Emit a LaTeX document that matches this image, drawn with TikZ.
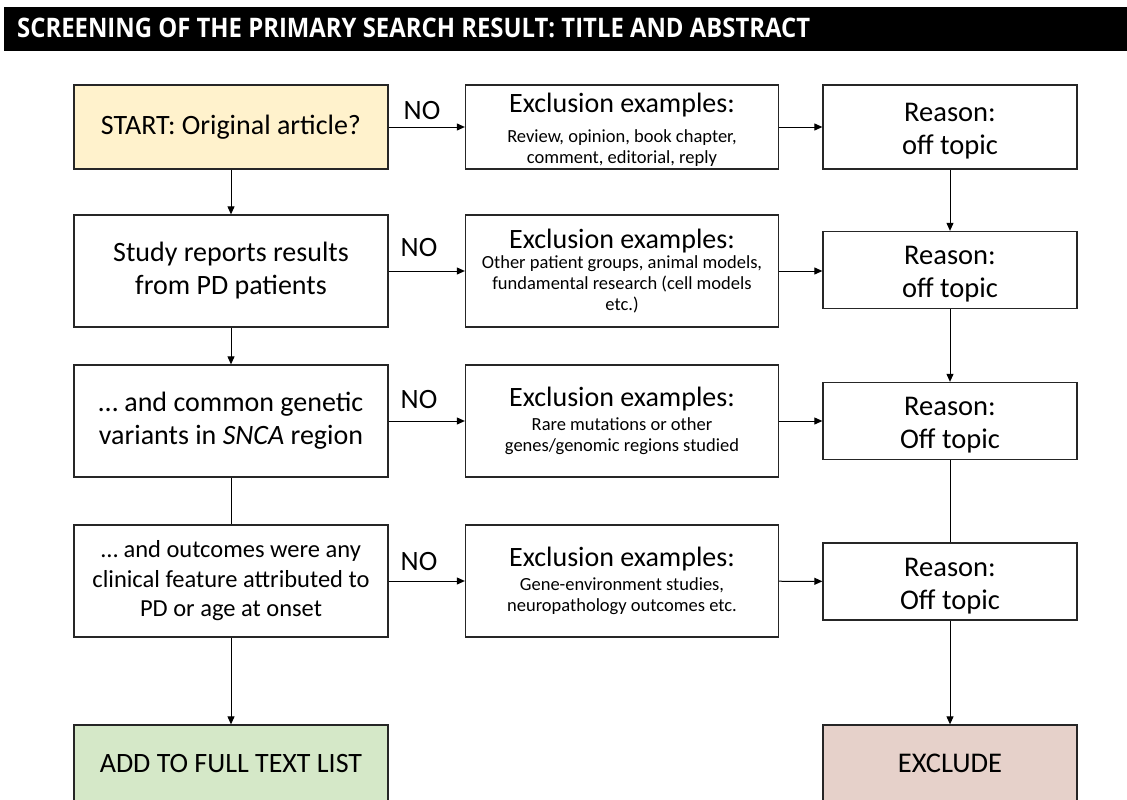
\documentclass[tikz,border=0pt]{standalone}
\usepackage{fontspec}
\usepackage{graphicx}
\setmainfont{Carlito}
\newfontfamily\titlefont{Open Sans}
\usetikzlibrary{arrows.meta}
\definecolor{startfill}{HTML}{FFF2CC}
\definecolor{addfill}{HTML}{D5E8C8}
\definecolor{exfill}{HTML}{E6D1CA}
\definecolor{edge}{HTML}{262626}
\tikzset{
  box/.style={draw=edge, line width=1.3pt, align=center, inner sep=2pt},
  lbox/.style={box, minimum width=314pt, font=\fontsize{28}{33}\selectfont},
  xbox/.style={box, minimum width=313pt, font=\fontsize{18.5}{21}\selectfont},
  rbox/.style={box, minimum width=254pt, minimum height=77pt, font=\fontsize{28.5}{33}\selectfont},
  nolab/.style={font=\fontsize{28}{33}\selectfont, inner sep=0pt},
  conn/.style={line width=1pt, draw=black},
  arr/.style={conn, -{Triangle[length=8pt,width=7pt]}},
}
\newcommand{\xhead}{{\fontsize{28}{33}\selectfont Exclusion examples:}}
\newcommand{\rstrut}{\rule{0pt}{27pt}}
\begin{document}
\begin{tikzpicture}[x=1pt,y=-1pt]
\useasboundingbox (0,0) rectangle (1127,800);
\clip (0,0) rectangle (1127,800);
% title bar
\fill[black] (4,7) rectangle (1140,51);
\node[anchor=south west, inner sep=0pt, text=white] (title) at (17,38)
  {\resizebox{793pt}{19.5pt}{\titlefont\bfseries SCREENING OF THE PRIMARY SEARCH RESULT: TITLE AND ABSTRACT}};

% left column
\node[lbox, fill=startfill, minimum height=84pt] (s1) at (231,127) {START: Original article?};
\node[lbox, minimum height=112pt] (s2) at (231,271) {Study reports results\\from PD patients};
\node[lbox, minimum height=112pt] (s3) at (231,421) {\dots\ and common genetic\\variants in \textit{SNCA} region};
\node[lbox, minimum height=112pt, font=\fontsize{24.5}{29.5}\selectfont] (s4) at (231,581) {\dots\ and outcomes were any\\clinical feature attributed to\\PD or age at onset};
\node[lbox, fill=addfill, minimum height=77pt] (add) at (231,763.5) {ADD TO FULL TEXT LIST};

% middle column
\node[xbox, minimum height=84pt] (x1) at (622,127) {\rule{0pt}{24pt}\xhead\\[9pt]Review, opinion, book chapter,\\comment, editorial, reply};
\node[xbox, minimum height=112pt] (x2) at (622,271) {\xhead\\[-1pt]Other patient groups, animal models,\\fundamental research (cell models\\etc.)};
\node[xbox, minimum height=112pt] (x3) at (622,421) {\xhead\\[3pt]Rare mutations or other\\genes/genomic regions studied};
\node[xbox, minimum height=112pt] (x4) at (622,581) {\xhead\\[3pt]Gene-environment studies,\\neuropathology outcomes etc.};

% right column
\node[rbox, minimum height=84pt] (r1) at (950,127) {\rstrut Reason:\\off topic};
\node[rbox] (r2) at (950,270) {\rstrut Reason:\\off topic};
\node[rbox] (r3) at (950,421) {\rstrut Reason:\\Off topic};
\node[rbox] (r4) at (950,581.5) {\rstrut Reason:\\Off topic};
\node[rbox, fill=exfill, minimum height=77pt] (exc) at (950,763.5) {EXCLUDE};

% NO labels
\node[nolab] (n1) at (422,111) {NO};
\node[nolab] (n2) at (419,248) {NO};
\node[nolab] (n3) at (419,400) {NO};
\node[nolab] (n4) at (419,562) {NO};

% vertical connectors left
\draw[arr] (s1) -- (s2);
\draw[arr] (s2) -- (s3);
\draw[conn] (s3) -- (s4);
\draw[arr] (s4) -- (add);

% horizontal connectors
\draw[arr] (s1) -- (x1);
\draw[arr] (s2) -- (x2);
\draw[arr] (s3) -- (x3);
\draw[arr] (s4) -- (x4);
\draw[arr] (x1) -- (r1);
\draw[arr] (x2) -- (x2 -| r2.west);
\draw[arr] (x3) -- (r3);
\draw[arr] (x4) -- (r4);

% vertical connectors right
\draw[arr] (r1) -- (r2);
\draw[arr] (r2) -- (r3);
\draw[conn] (r3) -- (r4);
\draw[arr] (r4) -- (exc);
\end{tikzpicture}
\end{document}
